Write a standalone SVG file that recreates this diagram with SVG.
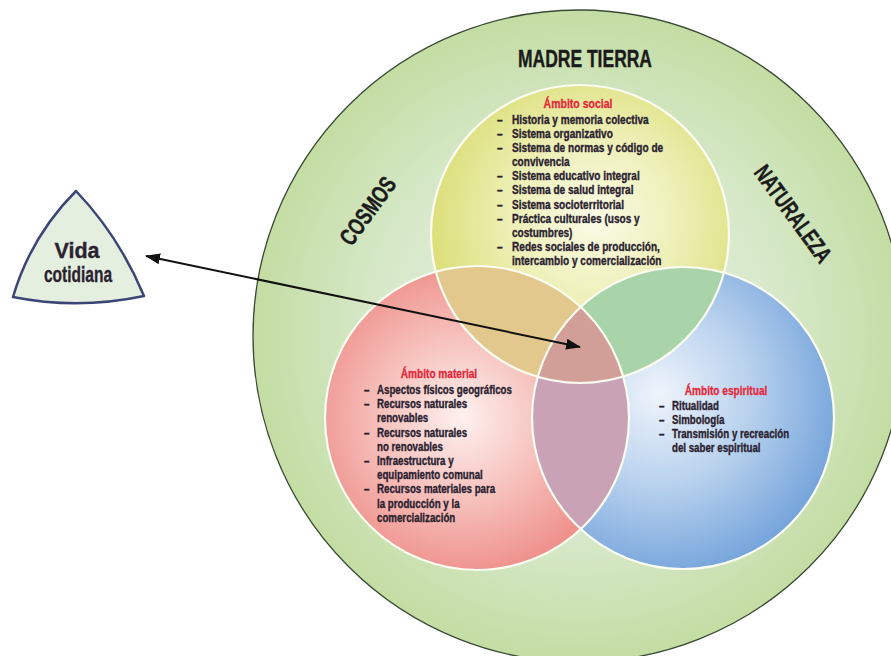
<svg xmlns="http://www.w3.org/2000/svg" width="891" height="656" viewBox="0 0 891 656">
<defs>
<style>
.big{font-family:"Liberation Sans",Arial,sans-serif;font-weight:bold;fill:#1b1b1b;stroke:#1b1b1b;stroke-width:0.4}
.t{font-family:"Liberation Sans",Arial,sans-serif;font-weight:bold;fill:#2a2230;stroke:#2a2230;stroke-width:0.35}
.h{font-family:"Liberation Sans",Arial,sans-serif;font-weight:bold;fill:#e3283a;stroke:#e3283a;stroke-width:0.3;text-anchor:middle}
.edge{fill:none;stroke:#fbfcf2;stroke-width:2.2}
.conn{stroke:#111;stroke-width:2;fill:none}
</style>
<radialGradient id="gOuter" cx="0.5" cy="0.5" r="0.5">
<stop offset="0" stop-color="#e9f1e2"/>
<stop offset="0.6" stop-color="#d8e9cb"/>
<stop offset="1" stop-color="#c3dda3"/>
</radialGradient>
<radialGradient id="gYellow" cx="0.55" cy="0.45" r="0.55">
<stop offset="0" stop-color="#fafbe6"/>
<stop offset="0.5" stop-color="#eef0b8"/>
<stop offset="1" stop-color="#dcdf79"/>
</radialGradient>
<radialGradient id="gRed" cx="0.45" cy="0.5" r="0.58">
<stop offset="0" stop-color="#fdf1ef"/>
<stop offset="0.5" stop-color="#f6bdb8"/>
<stop offset="1" stop-color="#ed8580"/>
</radialGradient>
<radialGradient id="gBlue" cx="0.42" cy="0.42" r="0.6">
<stop offset="0" stop-color="#eff4fb"/>
<stop offset="0.5" stop-color="#b9d2ee"/>
<stop offset="1" stop-color="#78a6dc"/>
</radialGradient>
<clipPath id="cRed"><circle cx="477" cy="418" r="152"/></clipPath>
<clipPath id="cBlue"><circle cx="683" cy="418" r="151"/></clipPath>
<marker id="ah" markerUnits="userSpaceOnUse" markerWidth="16" markerHeight="12" refX="14" refY="5.5" orient="auto-start-reverse">
<path d="M0,0 L15,5.5 L0,11 z" fill="#111"/>
</marker>
</defs>
<rect width="891" height="656" fill="#ffffff"/>

<g id="madre-tierra">
<circle cx="579" cy="336" r="326" fill="url(#gOuter)" stroke="#3a4a35" stroke-width="1.3"/>
<text class="big" x="518" y="67" font-size="24" textLength="134" lengthAdjust="spacingAndGlyphs">MADRE TIERRA</text>
<text class="big" font-size="24" text-anchor="middle" transform="translate(368,211) rotate(-54)" y="8" textLength="78" lengthAdjust="spacingAndGlyphs">COSMOS</text>
<text class="big" font-size="24" text-anchor="middle" transform="translate(793,214) rotate(54)" y="8" textLength="114" lengthAdjust="spacingAndGlyphs">NATURALEZA</text>
</g>

<g id="circles">
<circle id="c-social" cx="580" cy="234" r="149" fill="url(#gYellow)"/>
<circle id="c-material" cx="477" cy="418" r="152" fill="url(#gRed)"/>
<circle id="c-espiritual" cx="683" cy="418" r="151" fill="url(#gBlue)"/>
<circle cx="580" cy="234" r="149" fill="#e2c88d" clip-path="url(#cRed)"/>
<circle cx="580" cy="234" r="149" fill="#a9d3a8" clip-path="url(#cBlue)"/>
<circle cx="477" cy="418" r="152" fill="#c9a2b5" clip-path="url(#cBlue)"/>
<g clip-path="url(#cRed)"><circle cx="580" cy="234" r="149" fill="#d29f98" clip-path="url(#cBlue)"/></g>
<circle class="edge" cx="580" cy="234" r="149"/>
<circle class="edge" cx="477" cy="418" r="152"/>
<circle class="edge" cx="683" cy="418" r="151"/>
</g>

<g id="ambito-social" transform="translate(512,0) scale(0.84,1)">
<text class="h" x="78.6" y="108" font-size="12.5">Ámbito social</text>
<text class="t" font-size="12"><tspan x="-17.9" y="124">–</tspan><tspan x="0" y="124">Historia y memoria colectiva</tspan><tspan x="-17.9" y="138.1">–</tspan><tspan x="0" y="138.1">Sistema organizativo</tspan><tspan x="-17.9" y="152.2">–</tspan><tspan x="0" y="152.2">Sistema de normas y código de</tspan><tspan x="0" y="166.3">convivencia</tspan><tspan x="-17.9" y="180.4">–</tspan><tspan x="0" y="180.4">Sistema educativo integral</tspan><tspan x="-17.9" y="194.5">–</tspan><tspan x="0" y="194.5">Sistema de salud integral</tspan><tspan x="-17.9" y="208.6">–</tspan><tspan x="0" y="208.6">Sistema socioterritorial</tspan><tspan x="-17.9" y="222.7">–</tspan><tspan x="0" y="222.7">Práctica culturales (usos y</tspan><tspan x="0" y="236.8">costumbres)</tspan><tspan x="-17.9" y="250.9">–</tspan><tspan x="0" y="250.9">Redes sociales de producción,</tspan><tspan x="0" y="265">intercambio y comercialización</tspan></text>
</g>

<g id="ambito-material" transform="translate(377,0) scale(0.81,1)">
<text class="h" x="76.5" y="378" font-size="12.5">Ámbito material</text>
<text class="t" font-size="12"><tspan x="-16" y="394">–</tspan><tspan x="0" y="394">Aspectos físicos geográficos</tspan><tspan x="-16" y="408.2">–</tspan><tspan x="0" y="408.2">Recursos naturales</tspan><tspan x="0" y="422.4">renovables</tspan><tspan x="-16" y="436.6">–</tspan><tspan x="0" y="436.6">Recursos naturales</tspan><tspan x="0" y="450.8">no renovables</tspan><tspan x="-16" y="465">–</tspan><tspan x="0" y="465">Infraestructura y</tspan><tspan x="0" y="479.2">equipamiento comunal</tspan><tspan x="-16" y="493.4">–</tspan><tspan x="0" y="493.4">Recursos materiales para</tspan><tspan x="0" y="507.6">la producción y la</tspan><tspan x="0" y="521.8">comercialización</tspan></text>
</g>

<g id="ambito-espiritual" transform="translate(672,0) scale(0.81,1)">
<text class="h" x="66.7" y="395" font-size="12.5">Ámbito espiritual</text>
<text class="t" font-size="12"><tspan x="-16" y="410">–</tspan><tspan x="0" y="410">Ritualidad</tspan><tspan x="-16" y="424">–</tspan><tspan x="0" y="424">Simbología</tspan><tspan x="-16" y="438">–</tspan><tspan x="0" y="438">Transmisión y recreación</tspan><tspan x="0" y="452">del saber espiritual</tspan></text>
</g>

<g id="vida-cotidiana">
<path d="M76,191 Q119,236 144,296 Q78,310 13,297 Q31,236 76,191 Z" fill="#e4efdf" stroke="#3b4677" stroke-width="2.5" stroke-linejoin="round"/>
<text class="t" font-size="22" text-anchor="middle"><tspan x="77" y="258" textLength="45" lengthAdjust="spacingAndGlyphs">Vida</tspan><tspan x="78" y="282" textLength="68" lengthAdjust="spacingAndGlyphs">cotidiana</tspan></text>
</g>

<g id="connectors">
<line class="conn" x1="146" y1="256" x2="580" y2="347" marker-start="url(#ah)" marker-end="url(#ah)"/>
</g>
</svg>
